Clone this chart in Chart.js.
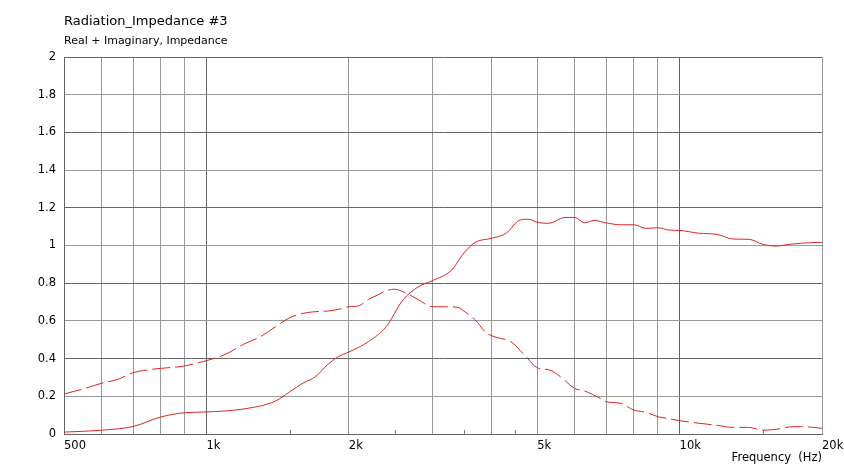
<!DOCTYPE html>
<html>
<head>
<meta charset="utf-8">
<script src="https://cdn.jsdelivr.net/npm/chart.js@4"></script>
<style>
  html, body { margin: 0; padding: 0; background: #fff; }
  #wrap { position: relative; width: 844px; height: 469px; }
</style>
</head>
<body>
<div id="wrap"><canvas id="impChart" width="844" height="469"></canvas></div>
<script>
// Real part (solid line)
const realFreq = [500, 600, 700, 800, 900, 1000, 1200, 1400, 1500, 1600, 1700, 1800, 1900, 2000, 2200, 2400, 2600, 2800, 3000, 3300, 3500, 3700, 4000, 4300, 4600, 4800, 5000, 5300, 5700, 6000, 6300, 6600, 7000, 7500, 8000, 8500, 9000, 9500, 10000, 11000, 12000, 13000, 14000, 15000, 16000, 17000, 18000, 20000];
const realValues = [0.01, 0.02, 0.04, 0.09, 0.113, 0.117, 0.133, 0.175, 0.224, 0.27, 0.304, 0.366, 0.41, 0.435, 0.49, 0.57, 0.71, 0.78, 0.813, 0.87, 0.96, 1.017, 1.038, 1.065, 1.135, 1.139, 1.123, 1.118, 1.148, 1.149, 1.121, 1.133, 1.12, 1.11, 1.11, 1.091, 1.094, 1.082, 1.08, 1.065, 1.059, 1.034, 1.033, 1.006, 0.997, 1.006, 1.012, 1.017];

// Imaginary part (dashed line)
const imagFreq = [500, 550, 600, 650, 700, 750, 800, 900, 950, 1000, 1100, 1200, 1300, 1400, 1500, 1600, 1700, 1800, 1900, 2000, 2100, 2200, 2300, 2400, 2500, 2600, 2800, 3000, 3200, 3400, 3500, 3700, 3900, 4100, 4400, 4700, 5000, 5300, 5600, 6000, 6300, 6800, 7000, 7500, 8000, 8500, 9000, 9500, 10000, 11000, 12000, 13000, 14000, 15000, 16000, 17000, 18000, 19000, 20000];
const imagValues = [0.212, 0.24, 0.269, 0.29, 0.325, 0.34, 0.348, 0.361, 0.375, 0.389, 0.424, 0.477, 0.516, 0.569, 0.617, 0.64, 0.649, 0.652, 0.661, 0.675, 0.68, 0.714, 0.737, 0.76, 0.768, 0.755, 0.714, 0.675, 0.675, 0.672, 0.652, 0.605, 0.537, 0.513, 0.49, 0.419, 0.352, 0.34, 0.304, 0.242, 0.228, 0.189, 0.171, 0.163, 0.127, 0.115, 0.092, 0.081, 0.071, 0.057, 0.046, 0.035, 0.035, 0.02, 0.025, 0.037, 0.039, 0.036, 0.03];

// Axis ticks
const gridFreqs = [500, 600, 700, 800, 900, 1000, 2000, 3000, 4000, 5000, 6000, 7000, 8000, 9000, 10000, 20000];
const minorFreqs = [1500, 2500, 3500, 4500, 15000];
const freqLabels = { 500: '500', 1000: '1k', 2000: '2k', 5000: '5k', 10000: '10k', 20000: '20k' };
const titleText = 'Radiation_Impedance #3';
const subtitleText = 'Real + Imaginary, Impedance';
const xAxisTitle = 'Frequency  (Hz)';

const lineColor = '#dd2424';
const FONT = 'DejaVu Sans, Verdana, sans-serif';

function toPoints(xs, ys) {
    return xs.map((x, i) => ({ x: x, y: ys[i] }));
}

// draws the heading text at the plot's left edge, plus small minor tick marks
const headerPlugin = {
    id: 'header',
    afterDraw(chart) {
        const ctx = chart.ctx;
        const area = chart.chartArea;
        ctx.save();
        ctx.fillStyle = '#000';
        ctx.textAlign = 'left';
        ctx.textBaseline = 'alphabetic';
        ctx.font = '13px ' + FONT;
        ctx.fillText(titleText, area.left, 25);
        ctx.font = '11px ' + FONT;
        ctx.fillText(subtitleText, area.left, 44);

        const xs = chart.scales.x;
        ctx.strokeStyle = '#777';
        ctx.lineWidth = 1;
        minorFreqs.forEach(f => {
            const px = Math.round(xs.getPixelForValue(f)) + 0.5;
            ctx.beginPath();
            ctx.moveTo(px, area.bottom);
            ctx.lineTo(px, area.bottom - 4);
            ctx.stroke();
        });
        ctx.restore();
    }
};

const ctx = document.getElementById('impChart').getContext('2d');
new Chart(ctx, {
    type: 'line',
    data: {
        datasets: [
            {
                label: 'Real',
                data: toPoints(realFreq, realValues),
                borderColor: lineColor,
                borderWidth: 1,
                pointRadius: 0,
                cubicInterpolationMode: 'monotone',
                fill: false
            },
            {
                label: 'Imaginary',
                data: toPoints(imagFreq, imagValues),
                borderColor: lineColor,
                borderWidth: 1,
                borderDash: [18, 5],
                pointRadius: 0,
                cubicInterpolationMode: 'monotone',
                fill: false
            }
        ]
    },
    options: {
        responsive: false,
        animation: false,
        layout: { padding: { top: 57, left: 0, right: 0, bottom: 0 } },
        plugins: {
            legend: { display: false },
            tooltip: { enabled: false },
            title: { display: false }
        },
        scales: {
            x: {
                type: 'logarithmic',
                min: 500,
                max: 20000,
                afterBuildTicks: (scale) => {
                    scale.ticks = gridFreqs.map(v => ({ value: v }));
                },
                afterFit: (scale) => {
                    scale.height = 35;
                    scale.paddingRight = 22;
                    scale.paddingLeft = 0;
                },
                ticks: {
                    autoSkip: false,
                    maxRotation: 0,
                    align: 'start',
                    color: '#000',
                    font: { family: FONT, size: 11.5 },
                    padding: 5,
                    callback: (v) => freqLabels[v] || ''
                },
                grid: {
                    drawTicks: false,
                    color: (c) => (c.tick && (c.tick.value === 1000 || c.tick.value === 10000 || c.tick.value === 500)) ? '#666' : '#999'
                },
                border: { display: true, color: '#666' },
                title: {
                    display: true,
                    text: xAxisTitle,
                    align: 'end',
                    color: '#000',
                    font: { family: FONT, size: 11.5 },
                    padding: { top: 0, bottom: 4 }
                }
            },
            y: {
                min: 0,
                max: 2,
                ticks: {
                    stepSize: 0.2,
                    color: '#000',
                    font: { family: FONT, size: 11.5 },
                    padding: 8,
                    callback: (v) => String(Number(v.toFixed(1)))
                },
                grid: {
                    drawTicks: false,
                    color: (c) => {
                        const v = Math.round(c.tick.value * 10);
                        return (v % 4 === 0) ? '#666' : '#999';
                    }
                },
                border: { display: true, color: '#666' },
                afterFit: (scale) => { scale.width = 64; }
            }
        }
    },
    plugins: [headerPlugin]
});
</script>
</body>
</html>
